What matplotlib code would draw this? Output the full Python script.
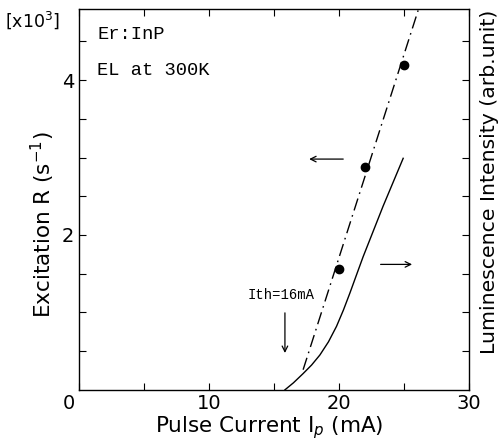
import matplotlib
matplotlib.use("Agg")
import matplotlib.pyplot as plt
import matplotlib.transforms as mtransforms

# measured excitation rate (x10^3 s^-1) vs pulse current (mA)
current_pts = [20.0, 22.0, 25.0]
excitation_pts = [1.56, 2.88, 4.20]

# dash-dot fit through the excitation data
fit_current = [17.25, 26.1]
fit_excitation = [0.26, 4.90]

# luminescence intensity (arb. unit, drawn on the same scale)
lum_current = [15.85, 16.5, 17.25, 17.9, 18.54, 19.2, 19.82, 20.35, 20.85, 21.37, 21.87, 22.6, 23.4, 24.2, 24.95]
lum_intensity = [0.0, 0.09, 0.21, 0.32, 0.45, 0.62, 0.82, 1.03, 1.25, 1.49, 1.72, 2.03, 2.37, 2.69, 2.99]

x_ticks = [0, 10, 20, 30]
y_ticks = [2, 4]

fig = plt.figure(figsize=(5.03, 4.43), dpi=100)
ax = fig.add_axes([0.157, 0.12, 0.775, 0.86])

ax.plot(fit_current, fit_excitation, color="black", lw=1.0, linestyle=(0, (9, 3.5, 1.2, 3.5)))
ax.plot(current_pts, excitation_pts, "o", color="black", ms=6)
ax.plot(lum_current, lum_intensity, color="black", lw=1.0)

# direction arrows and threshold marker
arrow = dict(arrowstyle="->", color="black", lw=0.9)
ax.annotate("", xy=(17.5, 2.98), xytext=(20.55, 2.98), arrowprops=arrow)
ax.annotate("", xy=(25.85, 1.62), xytext=(23.0, 1.62), arrowprops=arrow)
ax.annotate("", xy=(15.85, 0.44), xytext=(15.85, 1.03), arrowprops=arrow)

mono = "Liberation Mono"
ax.text(13.0, 1.23, "Ith=16mA", fontsize=10, family=mono, ha="left", va="center")
ax.text(1.4, 4.59, "Er:InP", fontsize=13.5, family=mono, ha="left", va="center")
ax.text(1.4, 4.13, "EL at 300K", fontsize=13.5, family=mono, ha="left", va="center")

ax.set_xlim(0, 30)
ax.set_ylim(0, 4.92)
ax.set_xticks(x_ticks)
ax.set_xticks([5, 15, 25], minor=True)
ax.set_yticks(y_ticks)
ax.set_yticks([0.5, 1.0, 1.5, 2.5, 3.0, 3.5, 4.5], minor=True)
ax.tick_params(which="both", direction="in", top=True, right=True, length=5, width=0.8, labelsize=14)
ax.tick_params(axis="x", pad=3)
for sp in ax.spines.values():
    sp.set_linewidth(1.0)

# the corner "0" sits a little left of the axis origin
first = ax.get_xticklabels()[0]
first.set_transform(first.get_transform() + mtransforms.ScaledTranslation(-0.1, 0, fig.dpi_scale_trans))

fig.text(0.535, 0.034, "Pulse Current I$_p$ (mA)", fontsize=15.5, ha="center", va="center")
fig.text(0.085, 0.492, "Excitation R (s$^{-1}$)", rotation=90, fontsize=15.5, ha="center", va="center")
fig.text(0.974, 0.589, "Luminescence Intensity (arb.unit)", rotation=90, fontsize=14.7, ha="center", va="center")
fig.text(0.01, 0.955, "[x10$^3$]", fontsize=12.5, ha="left", va="center")

fig.savefig("out.png", dpi=100)
